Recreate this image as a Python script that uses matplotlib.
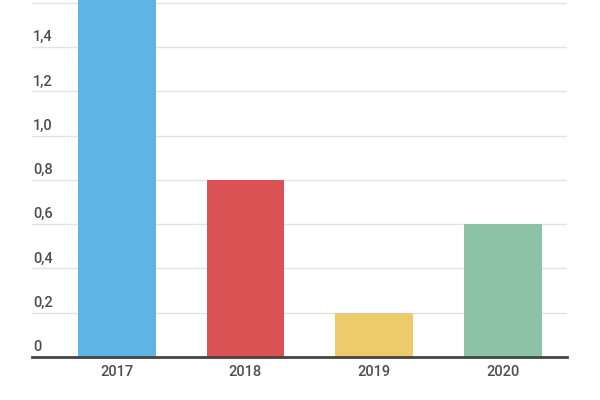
import matplotlib.pyplot as plt
import matplotlib.transforms as mtransforms

plt.rcParams["font.family"] = ["Roboto", "DejaVu Sans"]

# data
years = ["2017", "2018", "2019", "2020"]
values = [1.8, 0.8, 0.2, 0.6]
colors = ["#5DB5E5", "#DB5254", "#EDCB6B", "#8CC2A5"]
y_ticks = [0.0, 0.2, 0.4, 0.6, 0.8, 1.0, 1.2, 1.4, 1.6]

fig = plt.figure(figsize=(6, 4), dpi=100)
ax = fig.add_axes([32 / 600, 1 - 357 / 400, 535 / 600, 357 / 400])

x = list(range(len(years)))
ax.bar(x, values, width=0.606, color=colors, zorder=2)

ax.set_xlim(-0.66, 3.5)
ax.set_ylim(0, 1.612)

# gridlines and tick labels drawn inside the plot area
trans = mtransforms.blended_transform_factory(ax.transAxes, ax.transData)
for t in y_ticks:
    if t > 0:
        ax.axhline(t, color="#e3e3e3", linewidth=1, zorder=1)
    label = "0" if t == 0 else f"{t:.1f}".replace(".", ",")
    ax.annotate(label, xy=(0.002, t), xycoords=trans, xytext=(0, 2),
                textcoords="offset points", ha="left", va="bottom",
                fontsize=10.5, fontweight="medium", color="#4d4d4d",
                annotation_clip=False)

ax.axhline(0, color="#444444", linewidth=2, zorder=3, clip_on=False)

ax.set_xticks(x)
ax.set_xticklabels(years, fontsize=10.5, fontweight="medium", color="#4d4d4d")
ax.tick_params(axis="x", length=0, pad=6)
ax.set_yticks([])
for spine in ax.spines.values():
    spine.set_visible(False)

fig.savefig("out.png", dpi=100)
